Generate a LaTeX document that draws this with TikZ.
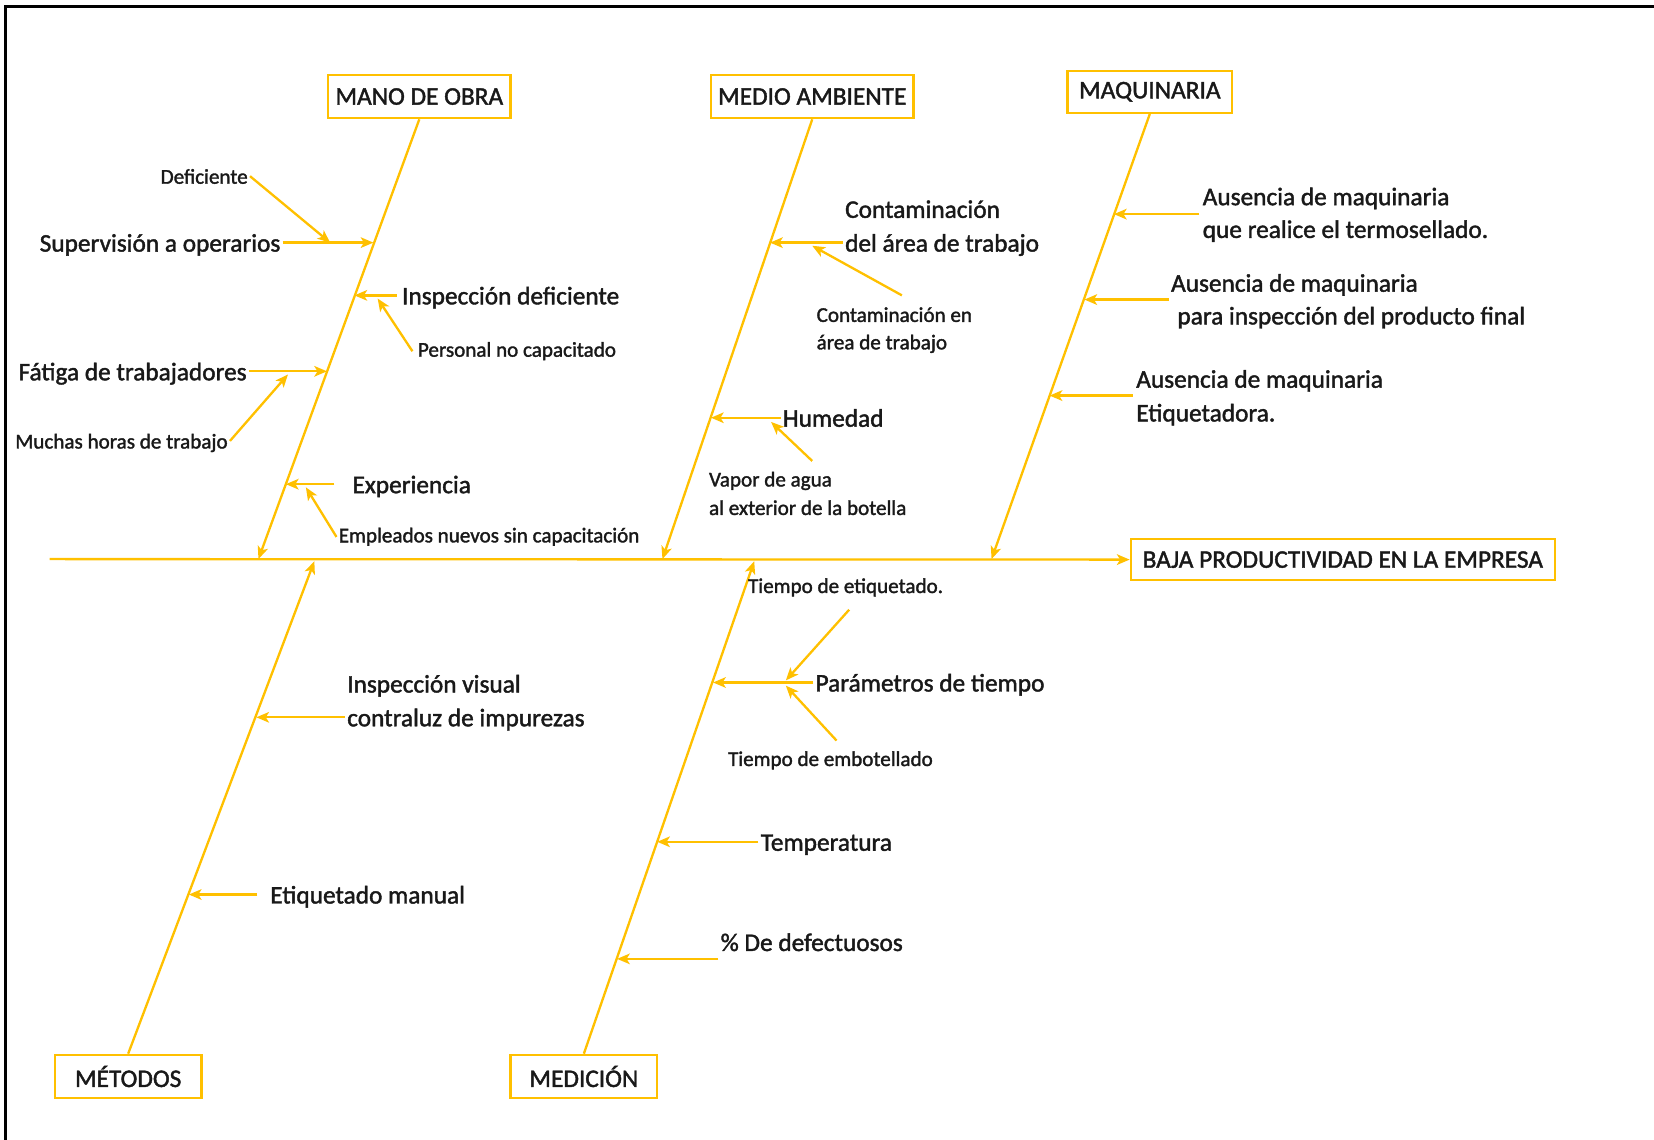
\documentclass[tikz,border=0pt]{standalone}
\usepackage{fontspec}
\setmainfont{Carlito}[FakeBold=1.6]
\usetikzlibrary{arrows.meta,calc}
\definecolor{gold}{RGB}{255,192,0}
\definecolor{ink}{RGB}{25,25,25}
\begin{document}
\begin{tikzpicture}[x=1pt,y=-1pt,
  arr/.style={draw=gold, line width=2.2pt, -{Stealth[length=12pt,width=10pt,inset=3pt]}},
  catbox/.style={draw=gold, line width=2.2pt, fill=white, text=ink,
    font=\fontsize{24}{28}\selectfont, inner sep=0pt, anchor=center},
  big/.style={text=ink, font=\fontsize{24}{28}\selectfont, inner sep=2pt,
    text height=21pt, text depth=4pt},
  small/.style={text=ink, font=\fontsize{20}{24}\selectfont, inner sep=2pt,
    text height=17.5pt, text depth=3.2pt},
]
\useasboundingbox (0,0) rectangle (1568,1080);
% frame
\draw[line width=3pt, line cap=rect] (5,1080) -- (5,6.5) -- (1568,6.5);

% category boxes and effect
\node[catbox, minimum width=173pt, minimum height=41pt] (mano) at (397.5,91.5) {MANO DE OBRA};
\node[catbox, minimum width=192pt, minimum height=41pt] (medio) at (770,91.5) {MEDIO AMBIENTE};
\node[catbox, minimum width=156pt, minimum height=40pt] (maq) at (1090,87) {MAQUINARIA};
\node[catbox, minimum width=139pt, minimum height=41pt] (metodos) at (121.5,1020.5) {MÉTODOS};
\node[catbox, minimum width=139pt, minimum height=41pt] (medicion) at (553.5,1020.5) {MEDICIÓN};
\node[catbox, minimum width=402pt, minimum height=39pt] (efecto) at (1273,530.5) {BAJA PRODUCTIVIDAD EN LA EMPRESA};

% spine
\coordinate (cola) at (47,530);
\draw[arr] (cola) -- (efecto.west);

% ---- Mano de obra
\coordinate (s1) at (245,530);
\draw[arr] (mano.south) -- (s1);
\node[big, anchor=east] (sup) at (268,230) {Supervisión a operarios};
\coordinate (h11) at (354,230);
\draw[arr] (sup.east) -- (h11);
\node[small, anchor=east] (defi) at (237,167) {Deficiente};
\coordinate (d11) at (313,230);
\draw[arr] (defi.east) -- (d11);
\node[big, anchor=west] (insp) at (379,280) {Inspección deficiente};
\coordinate (h12) at (336,280);
\draw[arr] ([xshift=-3pt]insp.west) -- (h12);
\node[small, anchor=west] (pers) at (394,331) {Personal no capacitado};
\coordinate (d12) at (358,283);
\draw[arr] ([xshift=-3pt,yshift=-2pt]pers.west) -- (d12);
\node[big, anchor=east] (fat) at (236,352) {Fátiga de trabajadores};
\coordinate (h13) at (310,352);
\draw[arr] (fat.east) -- (h13);
\node[small, anchor=east] (much) at (218,418) {Muchas horas de trabajo};
\coordinate (d13) at (273,355);
\draw[arr] (much.east) -- (d13);
\node[big, anchor=west] (expe) at (332,459) {Experiencia};
\coordinate (h14) at (271,459);
\draw[arr] ([xshift=-15pt]expe.west) -- (h14);
\node[small, anchor=west] (empl) at (319,507) {Empleados nuevos sin capacitación};
\coordinate (d14) at (290,462);
\draw[arr] ([yshift=-2pt]empl.west) -- (d14);

% ---- Medio ambiente
\coordinate (s2) at (628,530);
\draw[arr] (medio.south) -- (s2);
\node[big, anchor=west] (cont1) at (799,198) {Contaminación};
\node[big, anchor=west] (cont2) at (799,230) {del área de trabajo};
\coordinate (h21) at (730,230);
\draw[arr] (cont2.west) -- (h21);
\node[small, anchor=west] (cen1) at (772,298) {Contaminación en};
\node[small, anchor=west] (cen2) at (772,324) {área de trabajo};
\coordinate (c21) at (855,280);
\coordinate (d21) at (770,233);
\draw[arr] (c21) -- (d21);
\node[big, anchor=west] (hum) at (740,396) {Humedad};
\coordinate (h22) at (674,396);
\draw[arr] (hum.west) -- (h22);
\node[small, anchor=west] (vap1) at (670,454) {Vapor de agua};
\node[small, anchor=west] (vap2) at (670,481) {al exterior de la botella};
\coordinate (c22) at (770,437);
\coordinate (d22) at (731,400);
\draw[arr] (c22) -- (d22);

% ---- Maquinaria
\coordinate (s3) at (940,530);
\draw[arr] (maq.south) -- (s3);
\node[big, anchor=west] (a11) at (1138,186) {Ausencia de maquinaria};
\node[big, anchor=west] (a12) at (1138,217) {que realice el termosellado.};
\coordinate (c31) at (1137,203);
\coordinate (h31) at (1056,203);
\draw[arr] (c31) -- (h31);
\node[big, anchor=west] (a21) at (1108,268) {Ausencia de maquinaria};
\node[big, anchor=west] (a22) at (1114,299) {para inspección del producto final};
\coordinate (c32) at (1108,284);
\coordinate (h32) at (1028,284);
\draw[arr] (c32) -- (h32);
\node[big, anchor=west] (a31) at (1075,359) {Ausencia de maquinaria};
\node[big, anchor=west] (a32) at (1075,391) {Etiquetadora.};
\coordinate (c33) at (1074,375);
\coordinate (h33) at (995,375);
\draw[arr] (c33) -- (h33);

% ---- Métodos
\coordinate (s4) at (298,532);
\draw[arr] (metodos.north) -- (s4);
\node[big, anchor=west] (iv1) at (327,648) {Inspección visual};
\node[big, anchor=west] (iv2) at (327,680) {contraluz de impurezas};
\coordinate (h41) at (243,680);
\draw[arr] (iv2.west) -- (h41);
\node[big, anchor=west] (etm) at (254,848) {Etiquetado manual};
\coordinate (h42) at (179,848);
\draw[arr] ([xshift=-10pt]etm.west) -- (h42);

% ---- Medición
\coordinate (s5) at (715,532);
\draw[arr] (medicion.north) -- (s5);
\node[small, anchor=west] (teti) at (707,555) {Tiempo de etiquetado.};
\node[big, anchor=west] (par) at (771,647) {Parámetros de tiempo};
\coordinate (h51) at (676,647);
\draw[arr] (par.west) -- (h51);
\coordinate (c51) at (805,578);
\coordinate (d51) at (745,645);
\draw[arr] (c51) -- (d51);
\node[small, anchor=west] (temb) at (688,719) {Tiempo de embotellado};
\coordinate (c52) at (793,702);
\coordinate (d52) at (745,650);
\draw[arr] (c52) -- (d52);
\node[big, anchor=west] (temp) at (719,798) {Temperatura};
\coordinate (h52) at (623,798);
\draw[arr] (temp.west) -- (h52);
\node[big, anchor=west] (defe) at (681,893) {\% De defectuosos};
\coordinate (c53) at (681,909);
\coordinate (h53) at (585,909);
\draw[arr] (c53) -- (h53);
\end{tikzpicture}
\end{document}
